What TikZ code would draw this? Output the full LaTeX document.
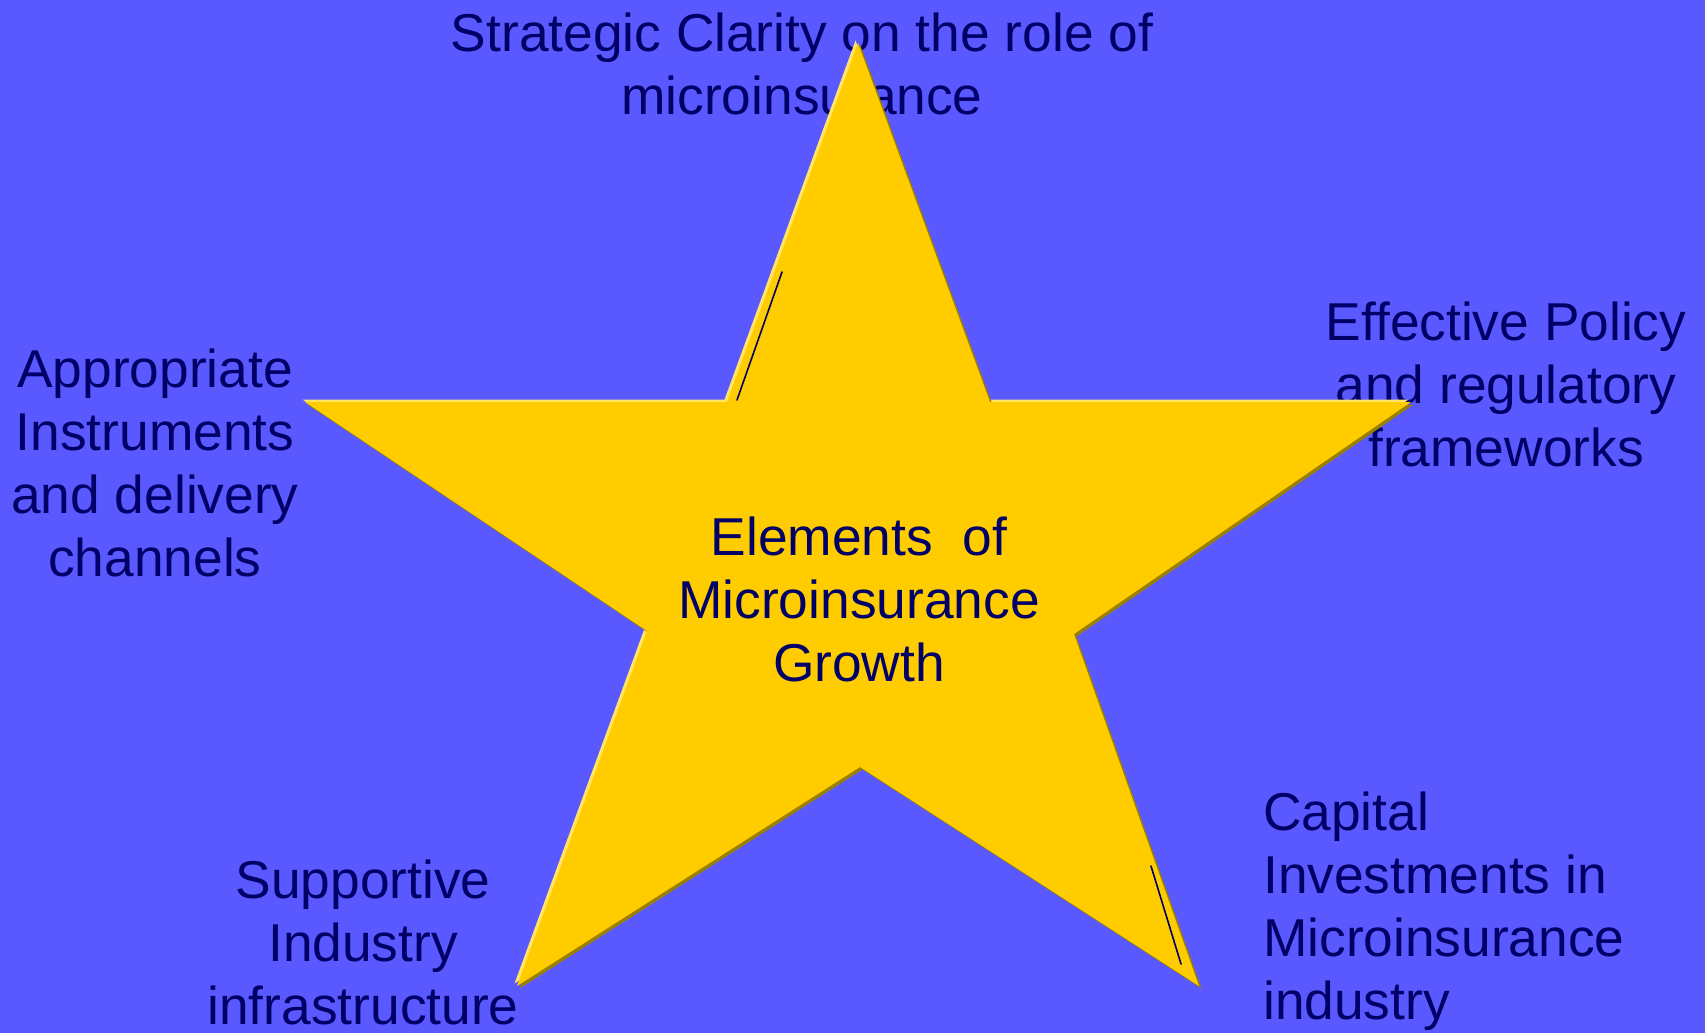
\documentclass[tikz,border=0pt]{standalone}
\usepackage{fontspec}
\setmainfont{Liberation Sans}
\definecolor{bgblue}{HTML}{5959FF}
\definecolor{navy}{HTML}{000066}
\definecolor{stargold}{HTML}{FFCC00}
\definecolor{starlight}{HTML}{FFE466}
\definecolor{starshade}{HTML}{9A8000}

% outline of the star, in pixel units
\def\starpts{(858,43) -- (990,402) -- (1411,402) -- (1074,634) -- (1199,986)
  -- (860,767) -- (517,986) -- (647,631) -- (305,402) -- (727,402) -- cycle}

\begin{document}
\begin{tikzpicture}[x=1pt,y=-1pt,
  elem/.style={text=navy,font=\fontsize{53.3}{63}\selectfont,align=center,inner sep=0pt}]
	\fill[bgblue] (0,0) rectangle (1705,1033);
	% the five elements
	\node[elem] (clarity) at (802,64) {Strategic Clarity on the role of\\microinsurance};
	\node[elem] (policy) at (1506,384) {Effective Policy\\and regulatory\\frameworks};
	\node[elem] (instr) at (155,463) {Appropriate\\Instruments\\and delivery\\channels};
	\node[elem] (infra) at (363,942) {Supportive\\Industry\\infrastructure};
	\node[elem,align=left,anchor=west] (capital) at (1263,911) {Capital\\Investments in\\Microinsurance\\industry};
	% the star
	\fill[starlight,shift={(-2.5,-2.5)}] \starpts;
	\fill[starshade,shift={(2.5,2.5)}] \starpts;
	\fill[stargold] \starpts;
	\draw[navy,line width=1.6pt,line cap=round] (737,400) -- (782,272);
	\draw[navy,line width=1.6pt,line cap=round] (1151,866) -- (1181,964);
	\node[elem] (growth) at (859,599) {Elements~ of\\Microinsurance\\Growth};
\end{tikzpicture}
\end{document}
